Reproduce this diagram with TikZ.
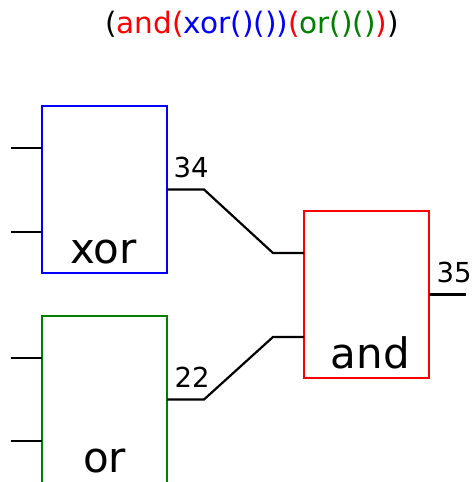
\documentclass[tikz,border=0pt]{standalone}
\usepackage{fontspec}
\setmainfont{DejaVu Sans}
\definecolor{gred}{RGB}{255,0,0}
\definecolor{gblue}{RGB}{0,0,255}
\definecolor{ggreen}{RGB}{0,128,0}
\begin{document}
\begin{tikzpicture}[x=1pt,y=-1pt,
  gate/.style={draw, line width=2.2pt, minimum width=125pt, minimum height=167pt,
    inner sep=0pt, outer sep=0pt, anchor=north west},
  gatename/.style={anchor=base, font=\fontsize{42}{50}\selectfont},
  netlabel/.style={anchor=base west, inner sep=0pt, font=\fontsize{27.5}{32}\selectfont},
  wire/.style={line width=2.2pt, line join=miter}]
\useasboundingbox (0,0) rectangle (474,482);
\clip (0,0) rectangle (474,482);

% expression
\node[anchor=base, inner sep=0pt, font=\fontsize{29.5}{34}\selectfont] (expr) at (252,33)
  {(\textcolor{gred}{and(}\textcolor{gblue}{xor()())}\textcolor{gred}{(}\textcolor{ggreen}{or()()}\textcolor{gred}{)})};

% gates
\node[gate, gblue] (xor) at (42,106) {};
\node[gate, ggreen] (or) at (42,316) {};
\node[gate, gred] (and) at (304,211) {};

\node[gatename] (xorname) at (103.5,263) {xor};
\node[gatename] (orname) at (104.5,472) {or};
\node[gatename] (andname) at (370.5,368) {and};

% pins
\coordinate (xin1) at (11,148);
\coordinate (xin2) at (11,232);
\coordinate (oin1) at (11,358);
\coordinate (oin2) at (11,441);
\coordinate (ain1) at (304,253);
\coordinate (ain2) at (304,337);
\coordinate (aout) at (466,294.5);

\draw[wire] (xin1) -- (xin1 -| xor.west);
\draw[wire] (xin2) -- (xin2 -| xor.west);
\draw[wire] (oin1) -- (oin1 -| or.west);
\draw[wire] (oin2) -- (oin2 -| or.west);

% nets
\draw[wire] (xor.east) -- ++(37,0) -- (273,253) -- (ain1);
\draw[wire] (or.east) -- ++(37,0) -- (273,337) -- (ain2);
\draw[wire] (and.east) -- (aout);

\node[netlabel] (n34) at (173.5,177) {34};
\node[netlabel] (n22) at (174.5,387) {22};
\node[netlabel] (n35) at (436.5,282) {35};
\end{tikzpicture}
\end{document}
